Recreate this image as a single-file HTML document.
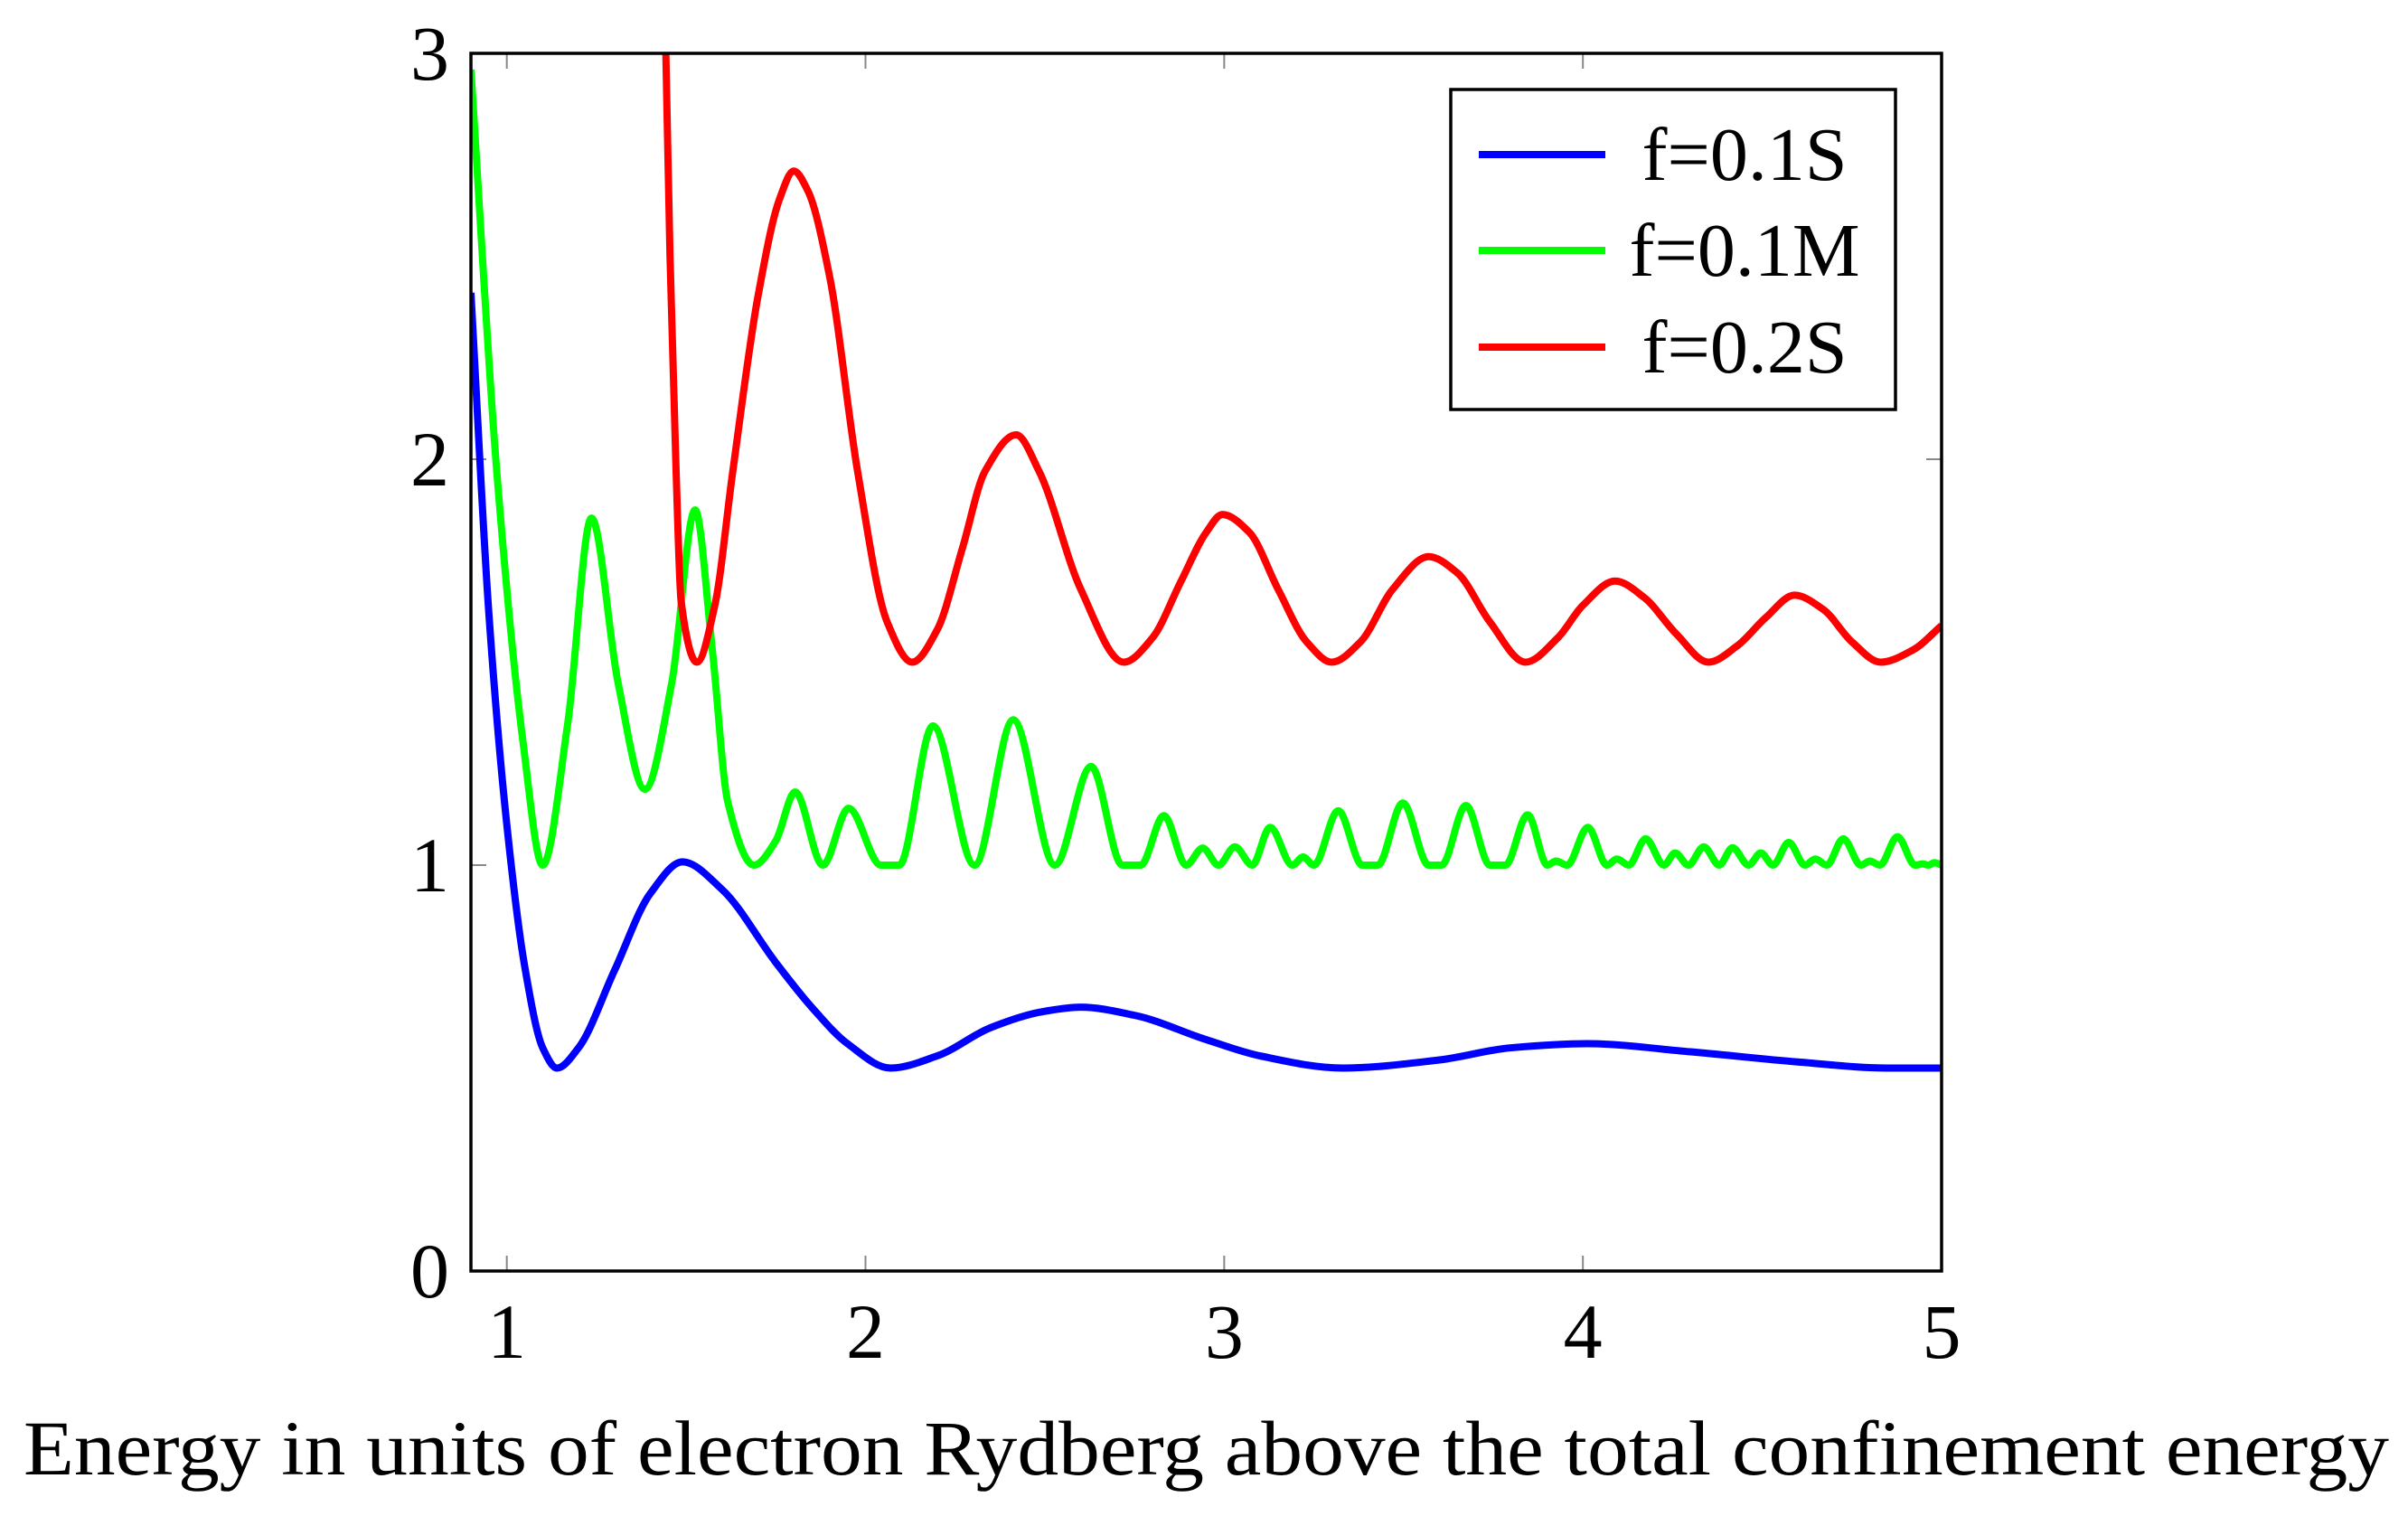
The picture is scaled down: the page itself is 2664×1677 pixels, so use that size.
<!DOCTYPE html>
<html><head><meta charset="utf-8"><style>
html,body{margin:0;padding:0;background:#fff;}
svg{display:block;font-family:"Liberation Serif",serif;}
</style></head><body>
<svg id="chart" width="2664" height="1677" viewBox="0 0 2664 1677">
<defs><clipPath id="clip"><rect x="521" y="59" width="1627" height="1347"/></clipPath></defs>
<g id="ticks"></g>
<g id="series"></g>
<rect x="521" y="59" width="1627" height="1347" fill="none" stroke="#000" stroke-width="3.5"/>
<g id="labels"></g>
<text x="26" y="1631" font-size="86" textLength="2617" lengthAdjust="spacingAndGlyphs">Energy in units of electron Rydberg above the total confinement energy</text>
<g id="legend">
<rect x="1605" y="99" width="492" height="354" fill="#fff" stroke="#000" stroke-width="3.5"/>
</g>
</svg>
<script>
const xTicks=[1,2,3,4,5];
const yTicks=[0,1,2,3];
const seriesNames=["f=0.1S","f=0.1M","f=0.2S"];
const seriesColors=["#0000ff","#00ff00","#ff0000"];
const blueX=[0.9,0.95,1.0,1.05,1.1,1.14,1.2,1.3,1.4,1.49,1.6,1.75,1.85,1.95,2.07,2.2,2.35,2.5,2.6,2.75,2.95,3.1,3.33,3.6,3.8,4.01,4.3,4.6,4.85,5.0];
const blueY=[2.41,1.62,1.1,0.75,0.55,0.5,0.55,0.74,0.93,1.008,0.94,0.76,0.65,0.56,0.5,0.53,0.6,0.64,0.65,0.63,0.57,0.53,0.5,0.52,0.55,0.56,0.54,0.515,0.5,0.5];
const greenX=[0.9,0.972,1.045,1.1,1.17,1.236,1.31,1.385,1.46,1.525,1.573,1.616,1.689,1.75,1.804,1.881,1.953,2.043,2.094,2.188,2.304,2.412,2.528,2.629,2.716,2.767,2.832,2.894,2.94,2.984,3.03,3.078,3.128,3.19,3.22,3.25,3.318,3.385,3.428,3.498,3.57,3.606,3.674,3.741,3.784,3.846,3.901,3.925,3.956,4.014,4.067,4.095,4.128,4.175,4.226,4.257,4.294,4.337,4.38,4.417,4.462,4.496,4.53,4.574,4.619,4.648,4.68,4.726,4.775,4.80,4.828,4.877,4.926,4.947,4.963,4.98,5.0];
const greenY=[2.96,1.97,1.305,1.0,1.35,1.855,1.45,1.187,1.45,1.875,1.53,1.156,1.0,1.06,1.18,1.0,1.14,1.0,1.0,1.343,1.0,1.358,1.0,1.243,1.0,1.0,1.122,1.0,1.042,1.0,1.045,1.0,1.093,1.0,1.02,1.0,1.134,1.0,1.0,1.153,1.0,1.0,1.147,1.0,1.0,1.124,1.0,1.01,1.0,1.093,1.0,1.015,1.0,1.065,1.0,1.03,1.0,1.045,1.0,1.043,1.0,1.03,1.0,1.056,1.0,1.015,1.0,1.065,1.0,1.01,1.0,1.07,1.0,1.003,1.0,1.006,1.0];
const redX=[1.443,1.455,1.472,1.486,1.53,1.58,1.63,1.7,1.76,1.8,1.84,1.9,1.978,2.06,2.13,2.2,2.27,2.333,2.42,2.484,2.6,2.72,2.8,2.88,2.95,2.995,3.07,3.15,3.23,3.3,3.38,3.47,3.57,3.65,3.74,3.84,3.93,4.0,4.09,4.17,4.26,4.35,4.43,4.51,4.59,4.67,4.75,4.83,4.92,5.0];
const redY=[3.02,2.5,1.97,1.65,1.5,1.64,1.97,2.4,2.64,2.71,2.66,2.45,1.97,1.6,1.5,1.58,1.78,1.97,2.06,1.97,1.68,1.5,1.56,1.7,1.82,1.864,1.82,1.68,1.55,1.5,1.55,1.68,1.76,1.72,1.6,1.5,1.56,1.64,1.7,1.66,1.57,1.5,1.54,1.61,1.665,1.63,1.55,1.5,1.53,1.59];

const L=521,R=2148,T=59,B=1406,X0=0.9,X1=5,Y0=0,Y1=3;
const sx=v=>L+(v-X0)/(X1-X0)*(R-L);
const sy=v=>B-(v-Y0)/(Y1-Y0)*(B-T);
const NS="http://www.w3.org/2000/svg";
function mk(tag,attrs,parent){const e=document.createElementNS(NS,tag);for(const k in attrs)e.setAttribute(k,attrs[k]);parent.appendChild(e);return e;}

const tg=document.getElementById('ticks'), lg=document.getElementById('labels');
xTicks.forEach(t=>{
  const a=mk('line',{x1:sx(t),x2:sx(t),y1:B,y2:B-17,stroke:'#888','stroke-width':2},tg);
  
  
  const b=mk('line',{x1:sx(t),x2:sx(t),y1:T,y2:T+17,stroke:'#888','stroke-width':2},tg);
  
  
  const tx=mk('text',{x:sx(t),y:1502,'font-size':86,'text-anchor':'middle'},lg);
  tx.textContent=t;
  
  
});
yTicks.forEach(t=>{
  const a=mk('line',{x1:L,x2:L+17,y1:sy(t),y2:sy(t),stroke:'#888','stroke-width':2},tg);
  
  
  const b=mk('line',{x1:R,x2:R-17,y1:sy(t),y2:sy(t),stroke:'#888','stroke-width':2},tg);
  
  
  const tx=mk('text',{x:497,y:sy(t)+29,'font-size':86,'text-anchor':'end'},lg);
  tx.textContent=t;
  
  
});

// monotone cubic (Fritsch-Carlson) in screen space
function pathFor(xs,ys){
  const X=xs.map(sx),Y=ys.map(sy),n=X.length;
  const d=[],m=new Array(n);
  for(let i=0;i<n-1;i++)d.push((Y[i+1]-Y[i])/(X[i+1]-X[i]));
  m[0]=d[0];m[n-1]=d[n-2];
  for(let i=1;i<n-1;i++){
    if(d[i-1]*d[i]<=0)m[i]=0;
    else{const w1=2*(X[i+1]-X[i])+(X[i]-X[i-1]),w2=(X[i+1]-X[i])+2*(X[i]-X[i-1]);m[i]=(w1+w2)/(w1/d[i-1]+w2/d[i]);}
  }
  let s='M'+X[0]+','+Y[0];
  for(let i=0;i<n-1;i++){
    const h=(X[i+1]-X[i])/3;
    s+=' C'+(X[i]+h)+','+(Y[i]+m[i]*h)+' '+(X[i+1]-h)+','+(Y[i+1]-m[i+1]*h)+' '+X[i+1]+','+Y[i+1];
  }
  return s;
}
const sg=document.getElementById('series');
const data=[[blueX,blueY],[greenX,greenY],[redX,redY]];
const names=['series-f-0.1S','series-f-0.1M','series-f-0.2S'];
data.forEach((d,i)=>{
  const pth=mk('path',{d:pathFor(d[0],d[1]),fill:'none',stroke:seriesColors[i],'stroke-width':8,'stroke-linejoin':'round','clip-path':'url(#clip)'},sg);
  
  
});

const leg=document.getElementById('legend');
const rowLineY=[171,277,384];
seriesNames.forEach((n,i)=>{
  const ln=mk('line',{x1:1636,x2:1776,y1:rowLineY[i],y2:rowLineY[i],stroke:seriesColors[i],'stroke-width':8},leg);
  
  
  const tx=mk('text',{x:1930,y:rowLineY[i]+28,'font-size':84,'text-anchor':'middle'},leg);
  tx.textContent=n;
  
  
});
</script>
</body></html>
